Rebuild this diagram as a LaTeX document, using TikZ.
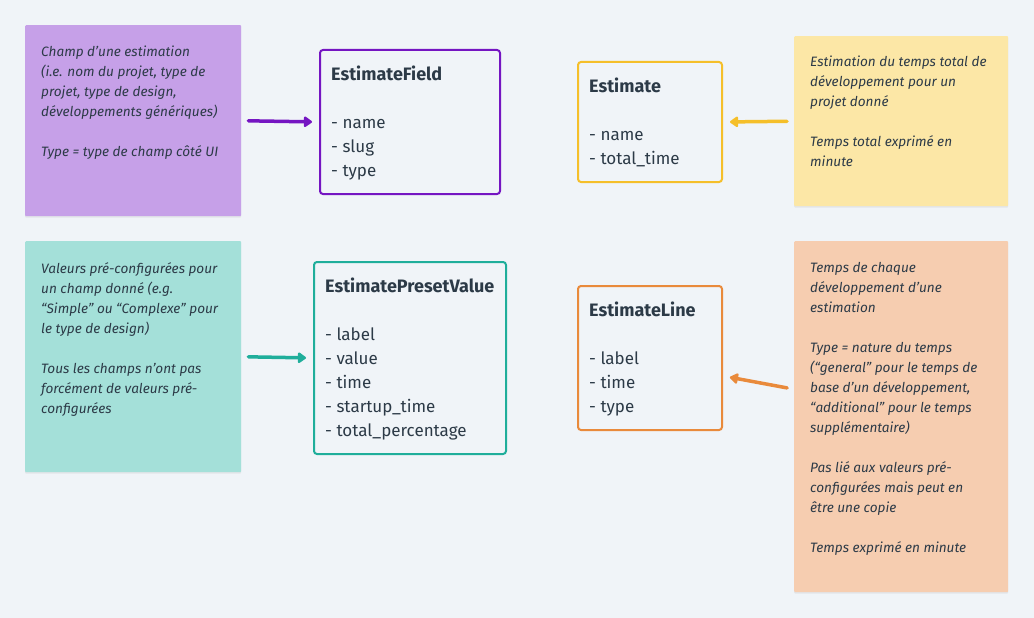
\documentclass[tikz,border=0pt]{standalone}
\usepackage{fontspec}
\setmainfont{Fira Sans}
\usetikzlibrary{arrows.meta,shadows}
\definecolor{bg}{HTML}{F0F4F8}
\definecolor{purplefill}{HTML}{C6A0E8}
\definecolor{purpleline}{HTML}{7515C2}
\definecolor{yellowfill}{HTML}{FCE7A6}
\definecolor{yellowline}{HTML}{F5BF2A}
\definecolor{tealfill}{HTML}{A4E0D9}
\definecolor{tealline}{HTML}{1FAE9B}
\definecolor{orangefill}{HTML}{F6CDB0}
\definecolor{orangeline}{HTML}{E98A3B}
\definecolor{textc}{HTML}{2C3A47}
\newcommand\enttitle[1]{{\fontsize{18}{24}\selectfont\bfseries #1}}
\tikzset{
  note/.style={rectangle, anchor=north west, inner sep=0pt, rounded corners=1pt,
    drop shadow={opacity=0.12, shadow xshift=0pt, shadow yshift=-1.5pt}},
  notetext/.style={anchor=north west, inner sep=0pt, align=left, text=textc,
    font=\fontsize{13.6}{20}\selectfont\itshape},
  entity/.style={rectangle, anchor=north west, inner sep=0pt, draw, line width=2pt, rounded corners=3pt, fill=bg},
  entitytext/.style={anchor=north west, inner sep=0pt, align=left, text=textc,
    font=\fontsize{17}{24}\selectfont},
  link/.style={line width=3.5pt, line cap=round, -{Triangle[length=9pt,width=12pt,round]}, shorten <=7pt, shorten >=7pt}
}
\begin{document}
\begin{tikzpicture}[x=1pt,y=-1pt]
\useasboundingbox[fill=bg] (0,0) rectangle (1034,618);
% notes
\node[note, fill=purplefill, minimum width=216pt, minimum height=191pt] (n1) at (25,25) {};
\node[notetext] (t1) at (41,46) {Champ d’une estimation\\(i.e. nom du projet, type de\\projet, type de design,\\développements génériques)\\~\\Type = type de champ côté UI};
\node[note, fill=yellowfill, minimum width=214pt, minimum height=170pt] (n2) at (794,36) {};
\node[notetext] (t2) at (810,56) {Estimation du temps total de\\développement pour un\\projet donné\\~\\Temps total exprimé en\\minute};
\node[note, fill=tealfill, minimum width=216pt, minimum height=231pt] (n3) at (25,241) {};
\node[notetext] (t3) at (41,262) {Valeurs pré-configurées pour\\un champ donné (e.g.\\“Simple” ou “Complexe” pour\\le type de design)\\~\\Tous les champs n’ont pas\\forcément de valeurs pré-\\configurées};
\node[note, fill=orangefill, minimum width=214pt, minimum height=351pt] (n4) at (794,241) {};
\node[notetext] (t4) at (810,262) {Temps de chaque\\développement d’une\\estimation\\~\\Type = nature du temps\\(“general” pour le temps de\\base d’un développement,\\“additional” pour le temps\\supplémentaire)\\~\\Pas lié aux valeurs pré-\\configurées mais peut en\\être une copie\\~\\Temps exprimé en minute};
% entities
\node[entity, draw=purpleline, minimum width=180pt, minimum height=144pt] (e1) at (319,49) {};
\node[entitytext] (et1) at (331,66) {\enttitle{EstimateField}\\~\\- name\\- slug\\- type};
\node[entity, draw=yellowline, minimum width=144pt, minimum height=120pt] (e2) at (577,61) {};
\node[entitytext] (et2) at (589,78) {\enttitle{Estimate}\\~\\- name\\- total\_time};
\node[entity, draw=tealline, minimum width=192pt, minimum height=192pt] (e3) at (313,261) {};
\node[entitytext] (et3) at (325,278) {\enttitle{EstimatePresetValue}\\~\\- label\\- value\\- time\\- startup\_time\\- total\_percentage};
\node[entity, draw=orangeline, minimum width=144pt, minimum height=144pt] (e4) at (577,285) {};
\node[entitytext] (et4) at (589,302) {\enttitle{EstimateLine}\\~\\- label\\- time\\- type};
% links
\draw[link, purpleline] (n1.east) -- (e1.west);
\draw[link, yellowline] (n2.west) -- (e2.east);
\draw[link, tealline] (n3.east) -- (e3.west);
\draw[link, orangeline] ([yshift=27.5pt]n4.west) -- ([yshift=-18pt]e4.east);
\end{tikzpicture}
\end{document}
